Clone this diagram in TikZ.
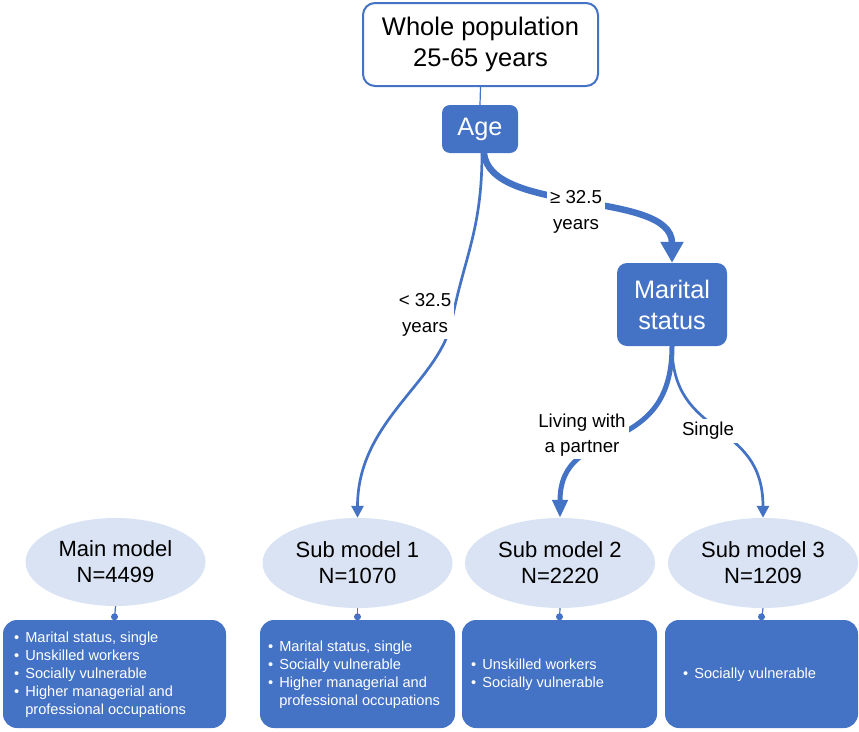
\documentclass[tikz,border=0pt]{standalone}
\usepackage{fontspec}
\setmainfont{Liberation Sans}
\usetikzlibrary{arrows.meta,shapes.geometric}
\definecolor{mblue}{HTML}{4472C4}
\definecolor{lblue}{HTML}{DAE3F3}
\begin{document}
\begin{tikzpicture}[x=1pt,y=-1pt,
  topbox/.style={draw=mblue,line width=2pt,fill=white,rounded corners=12pt,minimum width=235pt,minimum height=83pt,align=center,inner sep=0pt,font=\fontsize{25.5}{31}\selectfont},
  bluebox/.style={fill=mblue,text=white,align=center,inner sep=0pt,font=\fontsize{25.3}{31}\selectfont,rounded corners=8pt},
  model/.style={ellipse,fill=lblue,minimum width=190pt,minimum height=90pt,align=center,inner sep=0pt,font=\fontsize{22}{26}\selectfont},
  listbox/.style={fill=mblue,rounded corners=14pt,minimum height=108pt,inner sep=0pt},
  listtext/.style={text=white,anchor=west,inner sep=0pt,font=\fontsize{14.6}{18}\selectfont},
  lbl/.style={fill=white,align=center,inner sep=3pt,font=\fontsize{18.7}{25.5}\selectfont},
  stub/.style={draw=mblue,line width=1.2pt},
  thinarrow/.style={draw=mblue,line width=2.7pt,-{Triangle[length=12pt,width=12pt]}},
  thickarrow/.style={draw=mblue,line width=6.5pt,-{Triangle[length=21pt,width=22pt]}},
  midarrow/.style={draw=mblue,line width=5pt,-{Triangle[length=18pt,width=15pt]}},
]
\useasboundingbox (0,0) rectangle (859,731);

% top nodes
\node[topbox] (top) at (480.5,44.5) {Whole population\\25-65 years};
\node[bluebox,minimum width=76pt,minimum height=48pt] (age) at (480,129) {Age};
\node[bluebox,minimum width=110pt,minimum height=83pt,rounded corners=10pt] (ms) at (672,304.5) {Marital\\status};

% model ellipses
\node[model,minimum width=180pt,minimum height=88pt] (e1) at (115.5,562) {Main model\\N=4499};
\node[model] (e2) at (357.5,563) {Sub model 1\\N=1070};
\node[model] (e3) at (560,563) {Sub model 2\\N=2220};
\node[model] (e4) at (763,563) {Sub model 3\\N=1209};

% list boxes
\node[listbox,minimum width=223pt] (b1) at (114.5,674) {};
\node[listbox,minimum width=195pt] (b2) at (357.5,674) {};
\node[listbox,minimum width=195pt] (b3) at (559.5,674) {};
\node[listbox,minimum width=193pt] (b4) at (761.5,674) {};

\node[listtext] (t1) at (14,675) {\begin{tabular}{@{}l@{\hspace{6pt}}l@{}}
\textbullet & Marital status, single\\
\textbullet & Unskilled workers\\
\textbullet & Socially vulnerable\\
\textbullet & Higher managerial and\\
 & professional occupations\end{tabular}};
\node[listtext] (t2) at (268,675) {\begin{tabular}{@{}l@{\hspace{6pt}}l@{}}
\textbullet & Marital status, single\\
\textbullet & Socially vulnerable\\
\textbullet & Higher managerial and\\
 & professional occupations\end{tabular}};
\node[listtext] (t3) at (471,675) {\begin{tabular}{@{}l@{\hspace{6pt}}l@{}}
\textbullet & Unskilled workers\\
\textbullet & Socially vulnerable\end{tabular}};
\node[listtext] (t4) at (683,675) {\begin{tabular}{@{}l@{\hspace{6pt}}l@{}}
\textbullet & Socially vulnerable\end{tabular}};

% stubs between ellipses and boxes
\foreach \e/\b in {e1/b1,e2/b2,e3/b3,e4/b4}{
  \draw[stub] (\e.south) -- (\b.north);
  \fill[mblue] ([yshift=3pt]\b.north) circle (3.5pt);
}

% connectors
\draw[stub] (top.south) -- (age.north);
\draw[thinarrow] ([xshift=2pt]age.south) .. controls (482,230) and (464,258) .. (452,320)
   .. controls (440,382) and (357.5,420) .. (e2.north);
\draw[thickarrow] ([xshift=4pt]age.south) .. controls (490,215) and (672,190) .. (ms.north);
\draw[midarrow] (ms.south) .. controls (672,462) and (560,420) .. (e3.north);
\draw[thinarrow] (ms.south) .. controls (672,440) and (763,419) .. (e4.north);

% labels
\node[lbl] (la) at (425,315) {< 32.5\\years};
\node[lbl] (lb) at (576,212) {≥ 32.5\\years};
\node[lbl] (lc) at (582,435) {Living with\\a partner};
\node[lbl] (ld) at (708,431) {Single};
\end{tikzpicture}
\end{document}
